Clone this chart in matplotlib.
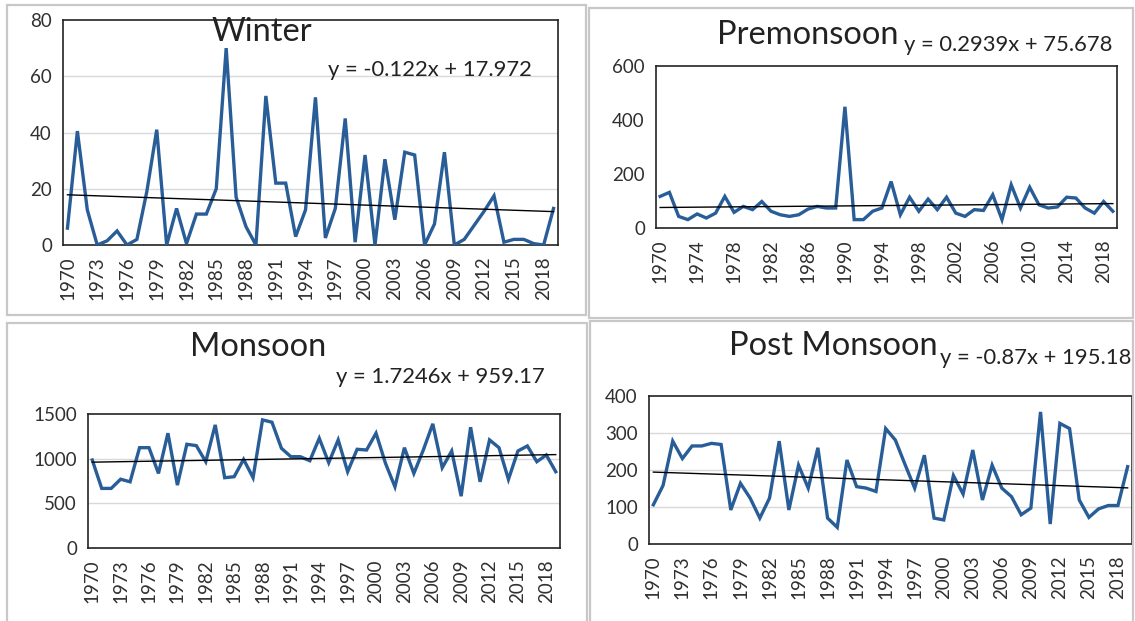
#!/usr/bin/env python3
"""Seasonal rainfall series 1970-2019 with linear trendlines (four panels)."""

import matplotlib.pyplot as plt
from matplotlib.patches import Rectangle
import numpy as np

plt.rcParams['font.family'] = ['Lato', 'DejaVu Sans']

years = list(range(1970, 2020))

winter = [6, 40.5, 12.5, 0, 1.5, 5, 0, 2, 19, 41,
          0, 13, 0.5, 11, 11, 20, 70, 17, 6.5, 0,
          53, 22, 22, 3, 12.5, 52.5, 2.5, 13, 45, 1,
          32, 0, 30.5, 9, 33, 32, 0, 7.5, 33, 0,
          2, 7, 12, 17.5, 1, 2, 2, 0.5, 0, 13]

premonsoon = [117, 132, 43, 31, 52, 37, 55, 117, 58, 80,
              68, 98, 62, 49, 43, 49, 70, 80, 74, 74,
              449, 31, 31, 62, 74, 172, 49, 114, 62, 107,
              68, 114, 55, 43, 68, 65, 123, 31, 160, 74,
              151, 86, 74, 78, 114, 111, 74, 55, 98, 62]

monsoon = [985, 667, 667, 770, 741, 1123, 1123, 835, 1285, 704,
           1161, 1146, 966, 1378, 787, 798, 992, 787, 1434, 1408,
           1116, 1022, 1022, 977, 1228, 955, 1210, 854, 1105, 1097,
           1285, 948, 685, 1123, 835, 1097, 1390, 899, 1086, 580,
           1352, 741, 1210, 1123, 768, 1086, 1142, 966, 1041, 854]

post_monsoon = [106, 158, 278, 231, 265, 265, 272, 269, 92, 164,
                124, 70, 124, 278, 92, 213, 151, 260, 70, 45,
                227, 155, 151, 142, 312, 281, 215, 151, 240, 70,
                65, 185, 135, 254, 119, 213, 151, 128, 79, 97,
                357, 54, 326, 312, 119, 72, 95, 104, 104, 209]

# trendline coefficients as printed on the chart (x = 1..50)
trend_winter = (-0.122, 17.972)
trend_premonsoon = (0.2939, 75.678)
trend_monsoon = (1.7246, 959.17)
trend_post = (-0.87, 195.18)

W, H = 1135, 621
LINE_BLUE = '#285d98'
GRID = '#d9d9d9'


def px_rect(left, top, right, bottom):
    return [left / W, 1 - bottom / H, (right - left) / W, (bottom - top) / H]


def fmt_eq(slope, icpt):
    sign = '+' if icpt >= 0 else '-'
    return f"y = {slope:g}x {sign} {abs(icpt):g}"


def draw_panel(fig, rect, values, trend, yticks, step, grid=True):
    ax = fig.add_axes(px_rect(*rect))
    idx = np.arange(len(values))
    ax.plot(idx, values, color=LINE_BLUE, linewidth=2.4, solid_joinstyle='miter', zorder=3)
    xs = np.array([idx[0], idx[-1]])
    ax.plot(xs, trend[0] * (xs + 1) + trend[1], color='black', linewidth=1.0, zorder=4)

    ax.set_xlim(-0.45, len(values) - 0.55)
    ax.set_ylim(yticks[0], yticks[-1])
    ax.set_yticks(yticks)
    ax.set_yticklabels([str(v) for v in yticks], fontsize=13.5, color='#303030')
    ax.set_xticks(idx[::step])
    ax.set_xticklabels([str(y) for y in years[::step]], rotation=90, fontsize=13.5, color='#303030')
    ax.tick_params(length=0, pad=8)
    if grid:
        for v in yticks[1:-1]:
            ax.axhline(v, color=GRID, linewidth=1.0, zorder=1)
    for s in ax.spines.values():
        s.set_color('#222222')
        s.set_linewidth(1.2)
    return ax


fig = plt.figure(figsize=(W / 100, H / 100), dpi=100)

# panel borders
for l, t, r, b in [(7, 5, 586, 315), (589, 8, 1133, 318),
                   (7, 323, 587, 640), (590, 321, 1133, 640)]:
    fig.add_artist(Rectangle((l / W, 1 - b / H), (r - l) / W, (b - t) / H,
                             transform=fig.transFigure, fill=False,
                             edgecolor='#c8c8c8', linewidth=1.6, clip_on=False))

draw_panel(fig, (63, 20, 558, 245), winter, trend_winter, [0, 20, 40, 60, 80], 3)
draw_panel(fig, (656, 66, 1117, 228), premonsoon, trend_premonsoon, [0, 200, 400, 600], 4, grid=False)
draw_panel(fig, (88, 414, 560, 548), monsoon, trend_monsoon, [0, 500, 1000, 1500], 3)
draw_panel(fig, (649, 396, 1132, 544), post_monsoon, trend_post, [0, 100, 200, 300, 400], 3)

# titles and trend equations
title_kw = dict(fontsize=23.5, color='#222222', va='center')
eq_kw = dict(fontsize=15.8, color='#222222', va='center')
fig.text(262 / W, 1 - 32 / H, 'Winter', ha='center', **title_kw)
fig.text(532 / W, 1 - 70 / H, fmt_eq(*trend_winter), ha='right', **eq_kw)
fig.text(808 / W, 1 - 35 / H, 'Premonsoon', ha='center', **title_kw)
fig.text(1112 / W, 1 - 45 / H, fmt_eq(*trend_premonsoon), ha='right', **eq_kw)
fig.text(258 / W, 1 - 347 / H, 'Monsoon', ha='center', **title_kw)
fig.text(545 / W, 1 - 377 / H, fmt_eq(*trend_monsoon), ha='right', **eq_kw)
fig.text(833 / W, 1 - 346 / H, 'Post Monsoon', ha='center', **title_kw)
fig.text(1131 / W, 1 - 358 / H, fmt_eq(*trend_post), ha='right', **eq_kw)

fig.savefig('out.png', dpi=100)
